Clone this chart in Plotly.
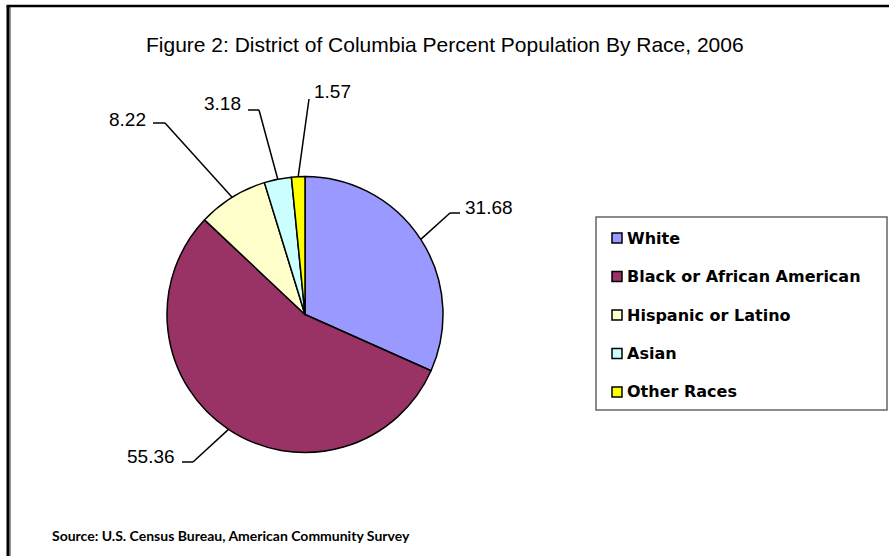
import math
import plotly.graph_objects as go

# Population share by race, District of Columbia, 2006 (percent)
categories = ["White", "Black or African American", "Hispanic or Latino", "Asian", "Other Races"]
percent = [31.68, 55.36, 8.22, 3.18, 1.57]
colors = ["#9999FF", "#993366", "#FFFFCC", "#CCFFFF", "#FFFF00"]

title_text = "Figure 2: District of Columbia Percent Population By Race, 2006"
source_text = "Source: U.S. Census Bureau, American Community Survey"

W, H = 889, 556

# Pie placement (pixels)
CX, CY, R = 305, 314.5, 138

# Leader-line elbows for each data label (pixels), stub direction and text gap
label_elbows = [(450, 213), (193, 462), (165, 123), (259, 110), (309, 99)]
label_stub = [10, -11, -12, -11, 0]
label_text_dy = [-6, -6, -4, -6, -7]


def px_x(x):
    return x / W


def px_y(y):
    return 1 - y / H


fig = go.Figure()

fig.add_trace(go.Pie(
    labels=categories,
    values=percent,
    sort=False,
    direction="clockwise",
    rotation=0,
    marker=dict(colors=colors, line=dict(color="black", width=1.5)),
    textinfo="none",
    hoverinfo="label+value",
    showlegend=False,
    domain=dict(x=[px_x(CX - R), px_x(CX + R)], y=[px_y(CY + R), px_y(CY - R)]),
))

shapes = []
annotations = []

# Data labels with leader lines, starting on the rim at each slice's mid-angle
total = sum(percent)
cum = 0.0
line_style = dict(color="black", width=1.5)
for i, v in enumerate(percent):
    mid = (cum + v / 2) / total
    cum += v
    ang = math.radians(90 - 360 * mid)
    ex = CX + R * math.cos(ang)
    ey = CY - R * math.sin(ang)
    bx, by = label_elbows[i]
    shapes.append(dict(type="line", xref="paper", yref="paper",
                       x0=px_x(ex), y0=px_y(ey), x1=px_x(bx), y1=px_y(by), line=line_style))
    sx = bx + label_stub[i]
    if label_stub[i] != 0:
        shapes.append(dict(type="line", xref="paper", yref="paper",
                           x0=px_x(bx), y0=px_y(by), x1=px_x(sx), y1=px_y(by), line=line_style))
    right_side = label_stub[i] >= 0
    tx = sx + (3 if right_side else -5)
    annotations.append(dict(
        x=px_x(tx), y=px_y(by + label_text_dy[i]), xref="paper", yref="paper",
        text=f"{v:.2f}", showarrow=False,
        xanchor="left" if right_side else "right", yanchor="middle",
        font=dict(family="Liberation Sans, Arial", size=19, color="black"),
    ))

# Legend box drawn from the category list
LX0, LY0, LX1, LY1 = 596, 217, 887, 410
shapes.append(dict(type="rect", xref="paper", yref="paper",
                   x0=px_x(LX0), y0=px_y(LY1), x1=px_x(LX1), y1=px_y(LY0),
                   line=dict(color="#666666", width=1.5), fillcolor="white", layer="below"))
row0, row_step = 238, 38.5
for i, (name, col) in enumerate(zip(categories, colors)):
    yc = row0 + i * row_step
    shapes.append(dict(type="rect", xref="paper", yref="paper",
                       x0=px_x(612), y0=px_y(yc + 5), x1=px_x(622), y1=px_y(yc - 5),
                       line=dict(color="black", width=1.5), fillcolor=col))
    annotations.append(dict(
        x=px_x(625), y=px_y(yc), xref="paper", yref="paper",
        text=f"<b>{name}</b>", showarrow=False, xanchor="left", yanchor="middle",
        font=dict(family="DejaVu Sans", size=16, color="black"),
    ))

# Chart frame (left and top edges)
shapes.append(dict(type="line", xref="paper", yref="paper",
                   x0=px_x(10.3), y0=px_y(7), x1=px_x(10.3), y1=px_y(H + 5),
                   line=dict(color="#999999", width=1.5)))
shapes.append(dict(type="line", xref="paper", yref="paper",
                   x0=px_x(8), y0=px_y(6), x1=px_x(8), y1=px_y(H + 5),
                   line=dict(color="black", width=3)))
shapes.append(dict(type="line", xref="paper", yref="paper",
                   x0=px_x(6.5), y0=px_y(6), x1=px_x(W + 5), y1=px_y(6),
                   line=dict(color="black", width=2.5)))

annotations.append(dict(
    x=px_x(445), y=px_y(45), xref="paper", yref="paper", text=title_text, showarrow=False,
    xanchor="center", yanchor="middle",
    font=dict(family="Liberation Sans, Arial", size=21, color="black"),
))
annotations.append(dict(
    x=px_x(50), y=px_y(535), xref="paper", yref="paper", text=f"<b>{source_text}</b>",
    showarrow=False, xanchor="left", yanchor="middle",
    font=dict(family="Lato", size=14, color="black"),
))

fig.update_layout(
    width=W, height=H,
    margin=dict(l=0, r=0, t=0, b=0),
    paper_bgcolor="white", plot_bgcolor="white",
    shapes=shapes, annotations=annotations,
)

fig.write_html("out.html")
